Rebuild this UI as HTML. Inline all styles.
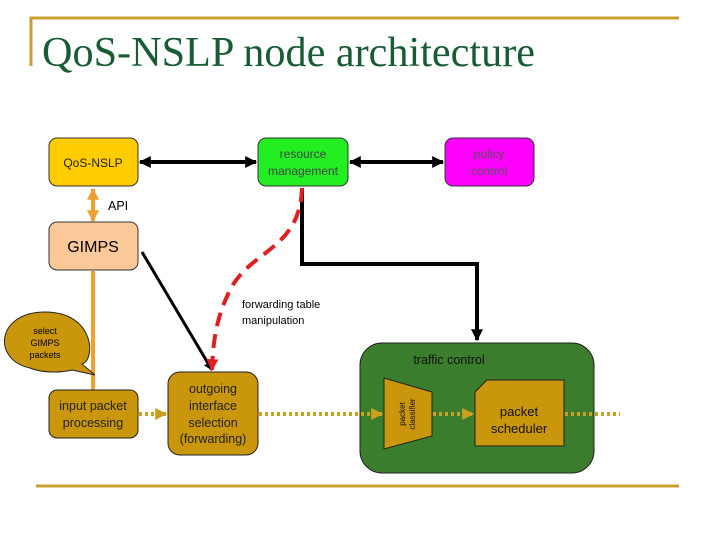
<!DOCTYPE html>
<html><head><style>
body{margin:0;width:720px;height:540px;background:#fff;overflow:hidden}
svg{display:block}
text{font-family:"Liberation Sans",sans-serif}
</style></head><body>
<svg width="720" height="540" viewBox="0 0 720 540">
<defs>
<marker id="ab" viewBox="0 0 10 10" refX="9" refY="5" markerWidth="3" markerHeight="3" orient="auto-start-reverse"><path d="M0,0L10,5L0,10z" fill="#000"/></marker>
<marker id="ao" viewBox="0 0 10 10" refX="9" refY="5" markerWidth="3" markerHeight="3" orient="auto-start-reverse"><path d="M0,0L10,5L0,10z" fill="#F0A030"/></marker>
<marker id="ar" viewBox="0 0 10 10" refX="9" refY="5" markerWidth="3" markerHeight="3" orient="auto"><path d="M0,0L10,5L0,10z" fill="#E02020"/></marker>
<marker id="ag" viewBox="0 0 10 10" refX="9" refY="5" markerWidth="3" markerHeight="3" orient="auto"><path d="M0,0L10,5L0,10z" fill="#C9A020"/></marker>
</defs>
<line x1="30" y1="18" x2="679" y2="18" stroke="#C9A030" stroke-width="3"/>
<line x1="31" y1="17" x2="31" y2="66" stroke="#C9A030" stroke-width="3"/>
<text x="42" y="66" font-size="42" fill="#185C34" textLength="493" lengthAdjust="spacingAndGlyphs" style="font-family:'Liberation Serif',serif">QoS-NSLP node architecture</text>
<line x1="36" y1="486" x2="679" y2="486" stroke="#C9A030" stroke-width="3"/>

<line x1="140" y1="162" x2="256" y2="162" stroke="#000" stroke-width="4" marker-start="url(#ab)" marker-end="url(#ab)"/>
<line x1="350" y1="162" x2="443" y2="162" stroke="#000" stroke-width="4" marker-start="url(#ab)" marker-end="url(#ab)"/>
<line x1="93" y1="189" x2="93" y2="221" stroke="#F0A030" stroke-width="4" marker-start="url(#ao)" marker-end="url(#ao)"/>
<text x="108" y="210" font-size="12.5">API</text>
<line x1="93" y1="271" x2="93" y2="392" stroke="#F0A030" stroke-width="4"/>
<polyline points="302,188 302,264 477,264 477,340" fill="none" stroke="#000" stroke-width="4" marker-end="url(#ab)"/>
<line x1="142" y1="252" x2="212" y2="370" stroke="#000" stroke-width="3" marker-end="url(#ab)"/>
<path d="M302,188 C300,250 250,250 230,290 C215,320 213,345 212,370" fill="none" stroke="#E02020" stroke-width="4" stroke-dasharray="14,8" marker-end="url(#ar)"/>
<text x="242" y="308" font-size="11">forwarding table</text>
<text x="242" y="324" font-size="11">manipulation</text>

<rect x="49" y="138" width="89" height="48" rx="8" fill="#FFCC00" stroke="#333"/>
<text x="93" y="167" font-size="12" text-anchor="middle" fill="#222">QoS-NSLP</text>
<rect x="258" y="138" width="90" height="48" rx="8" fill="#22EE22" stroke="#333"/>
<text x="303" y="158" font-size="12" text-anchor="middle" fill="#444">resource</text>
<text x="303" y="175" font-size="12" text-anchor="middle" fill="#444">management</text>
<rect x="445" y="138" width="89" height="48" rx="8" fill="#FF00FF" stroke="#333"/>
<text x="489" y="158" font-size="12" text-anchor="middle" fill="#555">policy</text>
<text x="489" y="175" font-size="12" text-anchor="middle" fill="#555">control</text>
<rect x="49" y="222" width="89" height="48" rx="8" fill="#FBC89A" stroke="#333"/>
<text x="93" y="252" font-size="16" text-anchor="middle">GIMPS</text>

<path d="M30,368 C-8,360 -4,312 45,312 C95,312 96,360 82,364 L95,375 L72,370 C60,373 42,373 30,368z" fill="#C9960C" stroke="#222"/>
<text x="45" y="334" font-size="9" text-anchor="middle">select</text>
<text x="45" y="346" font-size="9" text-anchor="middle">GIMPS</text>
<text x="45" y="358" font-size="9" text-anchor="middle">packets</text>

<rect x="49" y="390" width="89" height="48" rx="8" fill="#C9960C" stroke="#222"/>
<text x="93" y="410" font-size="12.5" text-anchor="middle" fill="#222">input packet</text>
<text x="93" y="427" font-size="12.5" text-anchor="middle" fill="#222">processing</text>
<rect x="168" y="372" width="90" height="83" rx="12" fill="#C9960C" stroke="#222"/>
<text x="213" y="393" font-size="12.5" text-anchor="middle" fill="#222">outgoing</text>
<text x="213" y="410" font-size="12.5" text-anchor="middle" fill="#222">interface</text>
<text x="213" y="427" font-size="12.5" text-anchor="middle" fill="#222">selection</text>
<text x="213" y="443" font-size="12.5" text-anchor="middle" fill="#222">(forwarding)</text>

<rect x="360" y="343" width="234" height="130" rx="22" fill="#3A7D2C" stroke="#222"/>
<text x="449" y="364" font-size="12.5" text-anchor="middle" fill="#111">traffic control</text>
<polygon points="384,378 432,392 432,436 384,449" fill="#C9960C" stroke="#222"/>
<text transform="translate(405,414) rotate(-90)" font-size="8" text-anchor="middle" fill="#111">packet</text>
<text transform="translate(415,414) rotate(-90)" font-size="8" text-anchor="middle" fill="#111">classifier</text>
<polygon points="487,380 564,380 564,446 475,446 475,392" fill="#C9960C" stroke="#222"/>
<text x="519" y="416" font-size="13" text-anchor="middle" fill="#111">packet</text>
<text x="519" y="433" font-size="13" text-anchor="middle" fill="#111">scheduler</text>

<g stroke="#C9A020" stroke-width="4" stroke-dasharray="3,3" fill="none">
<line x1="139" y1="414" x2="166" y2="414" marker-end="url(#ag)"/>
<line x1="259" y1="414" x2="382" y2="414" marker-end="url(#ag)"/>
<line x1="433" y1="414" x2="473" y2="414" marker-end="url(#ag)"/>
<line x1="565" y1="414" x2="620" y2="414"/>
</g>
</svg>
</body></html>
